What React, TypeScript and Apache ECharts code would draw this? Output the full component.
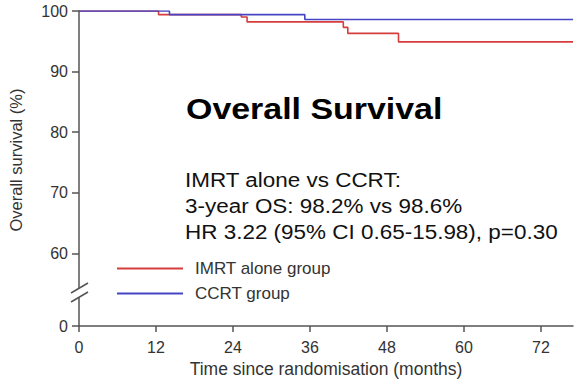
import React, { useEffect, useRef } from "react";
import * as echarts from "echarts";

// x axis ticks (months)
const monthTicks = [0, 12, 24, 36, 48, 60, 72];
const xMax = 77;
// y axis: broken axis, the bottom value (48) stands for 0
const yBreakBase = 48;
const yTicks = [48, 60, 70, 80, 90, 100];
const yTickLabels = ["0", "60", "70", "80", "90", "100"];

// Kaplan-Meier step curves (months, overall survival %)
const imrtTimes = [0, 12.4, 25.3, 26.2, 41.2, 41.9, 49.8, 77];
const imrtSurv = [100, 99.4, 99.0, 98.2, 97.3, 96.3, 94.9, 94.9];
const ccrtTimes = [0, 14.1, 35.2, 77];
const ccrtSurv = [100, 99.4, 98.6, 98.6];

const seriesNames = ["IMRT alone group", "CCRT group"];
const seriesColors = ["#d63d3d", "#4646c4"];

const titleText = "Overall Survival";
const noteLines = [
  "IMRT alone vs CCRT:",
  "3-year OS: 98.2% vs 98.6%",
  "HR 3.22 (95% CI 0.65-15.98), p=0.30",
];
const yTitle = "Overall survival (%)";
const xTitle = "Time since randomisation (months)";

const FONT = "'Liberation Sans', Arial, Helvetica, sans-serif";

export default function App() {
  const ref = useRef<HTMLDivElement>(null);
  useEffect(() => {
    if (!ref.current) return;
    const chart = echarts.init(ref.current, undefined, { renderer: "svg" });
    const pair = (t: number[], s: number[]) => t.map((x, i) => [x, s[i]]);
    const axisColor = "#555";
    chart.setOption({
      animation: false,
      backgroundColor: "#ffffff",
      textStyle: { fontFamily: FONT },
      grid: { left: 79, right: 4, top: 11, bottom: 58, containLabel: false },
      xAxis: {
        type: "value",
        min: 0,
        max: xMax,
        interval: 12,
        name: xTitle,
        nameLocation: "middle",
        nameGap: 29,
        nameTextStyle: { fontSize: 17.5, color: "#333", fontFamily: FONT },
        axisLine: { lineStyle: { color: axisColor, width: 1.5 } },
        axisTick: { show: true, length: 6, lineStyle: { color: axisColor, width: 1.5 }, customValues: monthTicks },
        axisLabel: { fontSize: 16, color: "#333", margin: 13, fontFamily: FONT, customValues: monthTicks },
        splitLine: { show: false },
      },
      yAxis: {
        type: "value",
        min: yBreakBase,
        max: 100,
        interval: 4,
        axisLine: { show: true, lineStyle: { color: axisColor, width: 1.5 } },
        axisTick: { show: true, length: 7, lineStyle: { color: axisColor, width: 1.5 }, customValues: yTicks },
        axisLabel: {
          fontSize: 16,
          color: "#333",
          margin: 11,
          fontFamily: FONT,
          customValues: yTicks,
          formatter: (v: number) => {
            const i = yTicks.indexOf(v);
            return i >= 0 ? yTickLabels[i] : "";
          },
        },
        splitLine: { show: false },
      },
      legend: {
        orient: "vertical",
        left: 117,
        top: 260,
        padding: 0,
        icon: "rect",
        itemWidth: 66,
        itemHeight: 2,
        itemGap: 8,
        textStyle: { fontSize: 17, lineHeight: 14, color: "#333", fontFamily: FONT, padding: [0, 0, 0, 7] },
        data: seriesNames,
      },
      series: [
        {
          name: seriesNames[0],
          type: "line",
          step: "end",
          symbol: "none",
          data: pair(imrtTimes, imrtSurv),
          lineStyle: { color: seriesColors[0], width: 1.6 },
          itemStyle: { color: seriesColors[0] },
        },
        {
          name: seriesNames[1],
          type: "line",
          step: "end",
          symbol: "none",
          data: pair(ccrtTimes, ccrtSurv),
          lineStyle: { color: seriesColors[1], width: 1.6 },
          itemStyle: { color: seriesColors[1] },
        },
      ],
      graphic: [
        {
          type: "text",
          x: 186,
          y: 109,
          scaleX: 1.17,
          style: {
            text: titleText,
            font: `bold 29px ${FONT}`,
            fill: "#000",
            align: "left",
            verticalAlign: "middle",
          },
        },
        ...noteLines.map((t, i) => ({
          type: "text",
          x: 185,
          y: 180 + i * 25.9,
          scaleX: 1.07,
          style: {
            text: t,
            font: `21px ${FONT}`,
            fill: "#111",
            align: "left",
            verticalAlign: "middle",
          },
        })),
        {
          type: "text",
          x: 16,
          y: 160,
          rotation: Math.PI / 2,
          style: {
            text: yTitle,
            font: `16.5px ${FONT}`,
            fill: "#333",
            align: "center",
            verticalAlign: "middle",
          },
        },
        // axis break marks
        {
          type: "polygon",
          shape: { points: [[71, 293], [88, 283], [88, 292], [71, 302]] },
          style: { fill: "#fff" },
          z: 100,
        },
        {
          type: "line",
          shape: { x1: 71, y1: 293, x2: 88, y2: 283 },
          style: { stroke: axisColor, lineWidth: 1.5 },
          z: 101,
        },
        {
          type: "line",
          shape: { x1: 71, y1: 302, x2: 88, y2: 292 },
          style: { stroke: axisColor, lineWidth: 1.5 },
          z: 101,
        },
      ],
    });
    return () => chart.dispose();
  }, []);
  return (
    <div
      ref={ref}
      style={{ position: "fixed", left: 0, top: 0, width: 577, height: 384 }}
    />
  );
}
